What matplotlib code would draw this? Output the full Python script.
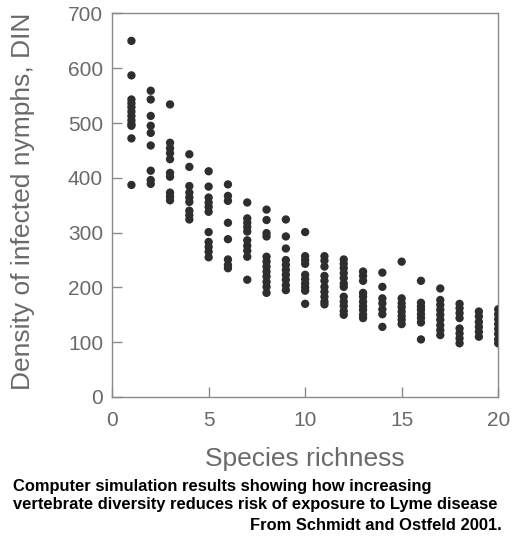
import numpy as np
import matplotlib
matplotlib.use("Agg")
import matplotlib.pyplot as plt

## values, one list per species-richness level
richness = list(range(1, 21))
din = [
    [650, 587, 543, 536, 529, 521, 513, 505, 498, 495, 472, 387],
    [559, 543, 513, 495, 482, 459, 413, 396, 389],
    [534, 464, 454, 445, 434, 409, 402, 373, 366, 359],
    [443, 420, 385, 373, 364, 356, 340, 332, 324],
    [412, 384, 364, 355, 347, 338, 301, 283, 274, 265, 255],
    [388, 367, 358, 318, 288, 251, 241, 235],
    [355, 326, 318, 310, 302, 286, 276, 267, 256, 214],
    [342, 323, 299, 293, 256, 247, 238, 229, 220, 210, 201, 190],
    [324, 293, 271, 250, 241, 232, 223, 214, 204, 195],
    [301, 257, 250, 243, 223, 215, 207, 200, 194, 170],
    [257, 249, 238, 221, 212, 201, 192, 183, 174, 169],
    [251, 243, 235, 226, 217, 207, 201, 183, 174, 166, 157, 150],
    [229, 221, 212, 190, 183, 174, 166, 159, 150, 144],
    [227, 201, 180, 171, 160, 151, 128],
    [247, 180, 171, 164, 156, 148, 141, 133],
    [212, 172, 165, 159, 151, 144, 136, 105],
    [198, 177, 168, 159, 150, 141, 131, 122, 113],
    [170, 162, 153, 144, 125, 116, 107, 98],
    [156, 147, 137, 128, 119, 110],
    [160, 151, 142, 133, 124, 115, 105, 98],
]
x_ticks = [0, 5, 10, 15, 20]
y_ticks = [0, 100, 200, 300, 400, 500, 600, 700]

plt.rcParams['font.family'] = ['Liberation Sans', 'DejaVu Sans']

fig = plt.figure(figsize=(5.12, 5.39), dpi=100)
ax = fig.add_axes([0.219, 0.2635, 0.754, 0.7115])

xs = np.concatenate([[r] * len(v) for r, v in zip(richness, din)])
ys = np.concatenate(din)
ax.scatter(xs, ys, s=36, color='#2e2e2e', edgecolors='none', zorder=3)

ax.set_xlim(0, 20)
ax.set_ylim(0, 700)
ax.set_xticks(x_ticks)
ax.set_yticks(y_ticks)
for sp in ax.spines.values():
    sp.set_color('#8a8a8a')
    sp.set_linewidth(1.0)
ax.tick_params(direction='in', length=7, width=1, color='#8a8a8a',
               labelcolor='#6a6a6a', labelsize=15)
ax.tick_params(axis='x', pad=10)
ax.tick_params(axis='y', pad=6.5)
ax.set_xlabel('Species richness', fontsize=19, color='#6a6a6a', labelpad=12)
ax.set_ylabel('Density of infected nymphs, DIN', fontsize=19, color='#6a6a6a')
ax.yaxis.set_label_coords(-0.2, 0.51)

## caption under the chart
fig.text(13 / 512, 1 - 487 / 539, 'Computer simulation results showing how increasing',
         fontsize=11.9, fontweight='bold', color='black', va='center', ha='left')
fig.text(13 / 512, 1 - 505 / 539, 'vertebrate diversity reduces risk of exposure to Lyme disease',
         fontsize=11.9, fontweight='bold', color='black', va='center', ha='left')
fig.text(502 / 512, 1 - 525 / 539, 'From Schmidt and Ostfeld 2001.',
         fontsize=11.9, fontweight='bold', color='black', va='center', ha='right')

fig.savefig('out.png', dpi=100)
